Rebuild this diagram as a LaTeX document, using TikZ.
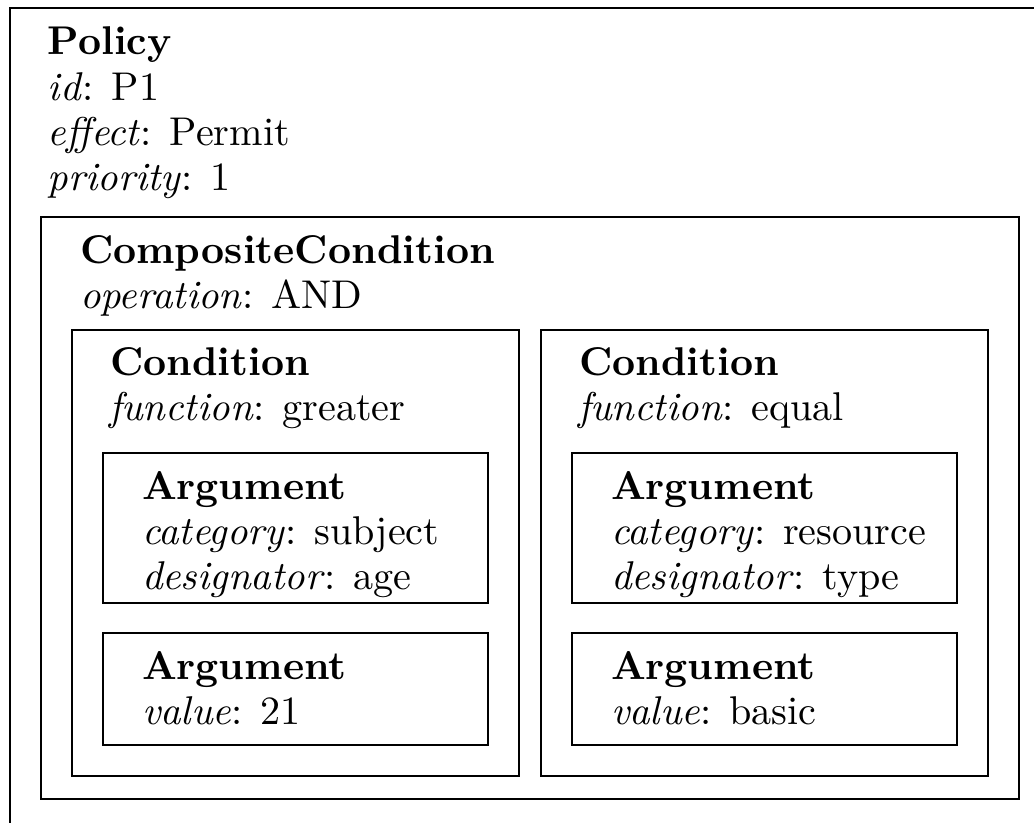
\documentclass[tikz,border=0pt]{standalone}
\begin{document}
\begin{tikzpicture}[x=0.26667pt, y=-0.26667pt,
  frame/.style={draw=black, line width=0.4pt},
  lbl/.style={anchor=base west, inner sep=0pt, outer sep=0pt,
    font=\fontsize{10.7pt}{12.8pt}\selectfont}]
\useasboundingbox (0,0) rectangle (1034,822);
\clip (0,0) rectangle (1034,822);

% nested frames
\draw[frame] (10,8) rectangle (1060,850);
\draw[frame] (41,217) rectangle (1019,799);
\draw[frame] (72,330) rectangle (519,776);
\draw[frame] (541,330) rectangle (988,776);
\draw[frame] (103,453) rectangle (488,603);
\draw[frame] (103,633) rectangle (488,745);
\draw[frame] (572,453) rectangle (957,603);
\draw[frame] (572,633) rectangle (957,745);

% policy
\node[lbl] (pol)  at (48,54)  {\textbf{Policy}};
\node[lbl] (polid) at (48,100) {\textit{id}: P1};
\node[lbl] (poleff) at (48,145) {\textit{effect}: Permit};
\node[lbl] (polpri) at (48,190) {\textit{priority}: 1};

% composite condition
\node[lbl] (cc)   at (80,263) {\textbf{CompositeCondition}};
\node[lbl] (ccop) at (80,308) {\textit{operation}: AND};

% left condition
\node[lbl] (c1)   at (110,375) {\textbf{Condition}};
\node[lbl] (c1f)  at (109,420) {\textit{function}: greater};
\node[lbl] (a11)  at (142,499) {\textbf{Argument}};
\node[lbl] (a11c) at (142,544) {\textit{category}: subject};
\node[lbl] (a11d) at (142,589) {\textit{designator}: age};
\node[lbl] (a12)  at (142,679) {\textbf{Argument}};
\node[lbl] (a12v) at (142,724) {\textit{value}: 21};

% right condition
\node[lbl] (c2)   at (579,375) {\textbf{Condition}};
\node[lbl] (c2f)  at (578,420) {\textit{function}: equal};
\node[lbl] (a21)  at (611,499) {\textbf{Argument}};
\node[lbl] (a21c) at (611,544) {\textit{category}: resource};
\node[lbl] (a21d) at (611,589) {\textit{designator}: type};
\node[lbl] (a22)  at (611,679) {\textbf{Argument}};
\node[lbl] (a22v) at (611,724) {\textit{value}: basic};
\end{tikzpicture}
\end{document}
